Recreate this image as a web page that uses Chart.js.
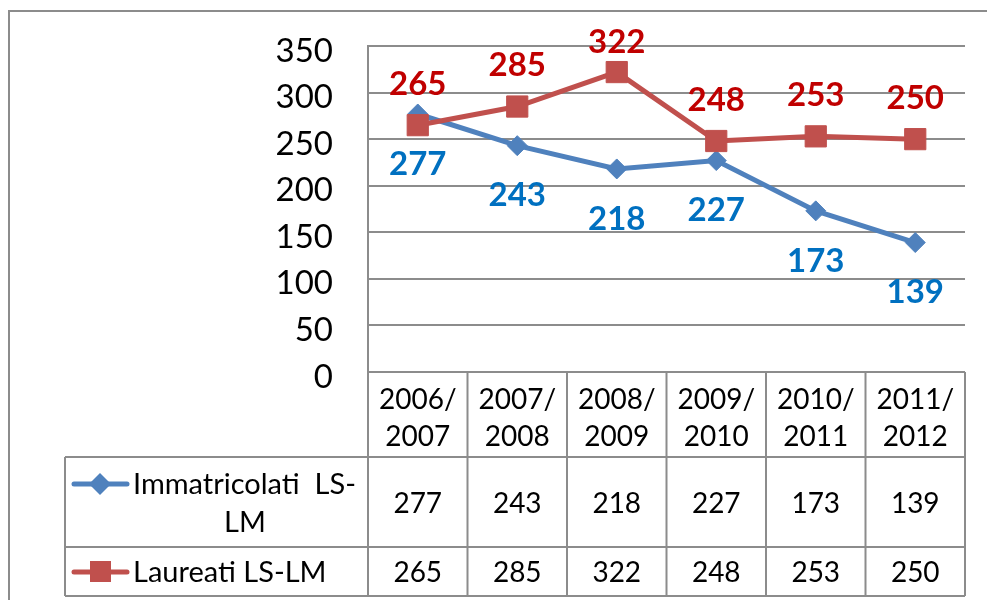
<!DOCTYPE html>
<html>
<head>
<meta charset="utf-8">
<script src="https://cdn.jsdelivr.net/npm/chart.js@4/dist/chart.umd.min.js"></script>
<style>
  html, body { margin: 0; padding: 0; background: #fff; }
  #wrap { width: 987px; height: 600px; }
</style>
</head>
<body>
<div id="wrap"><canvas id="lineChart" width="987" height="600"></canvas></div>
<script>
const ctx = document.getElementById('lineChart').getContext('2d');

const categories = ['2006/2007', '2007/2008', '2008/2009', '2009/2010', '2010/2011', '2011/2012'];
const seriesNames = ['Immatricolati  LS-LM', 'Laureati LS-LM'];
const immatricolati = [277, 243, 218, 227, 173, 139];
const laureati = [265, 285, 322, 248, 253, 250];
const yTicks = [0, 50, 100, 150, 200, 250, 300, 350];

const blue = '#4F81BD';
const red = '#C0504D';
const blueLabel = '#0070C0';
const redLabel = '#C00000';
const gridGray = '#8C8C8C';
const FONT = 'Lato, "Open Sans", sans-serif';

// etichette sopra / sotto i punti
const valueLabels = {
    id: 'valueLabels',
    afterDatasetsDraw(chart) {
        const c = chart.ctx;
        c.save();
        c.font = 'bold 33px ' + FONT;
        c.textAlign = 'center';
        c.textBaseline = 'middle';
        chart.data.datasets.forEach((ds, i) => {
            const meta = chart.getDatasetMeta(i);
            meta.data.forEach((pt, j) => {
                let y = ds.labelAbove ? pt.y - 41 : pt.y + 50;
                if (y < 42) y = 42;
                c.fillStyle = ds.labelColor;
                c.fillText(String(ds.data[j]), pt.x, y);
            });
        });
        c.restore();
    }
};

// tabella dati sotto il grafico + bordo esterno
const dataTable = {
    id: 'dataTable',
    afterDraw(chart) {
        const c = chart.ctx;
        const x = chart.scales.x;
        const area = chart.chartArea;
        const n = categories.length;
        const colW = (area.right - area.left) / n;
        const top = area.bottom;
        const r1 = 457, r2 = 547, bottom = 596, legLeft = 65;

        c.save();
        c.strokeStyle = gridGray;
        c.lineWidth = 2;
        c.beginPath();
        // righe orizzontali
        c.moveTo(area.left, top); c.lineTo(area.right, top);
        [r1, r2, bottom].forEach(y => { c.moveTo(legLeft, y); c.lineTo(area.right, y); });
        // colonne
        for (let i = 0; i <= n; i++) {
            const xx = area.left + i * colW;
            c.moveTo(xx, top); c.lineTo(xx, bottom);
        }
        c.moveTo(legLeft, r1); c.lineTo(legLeft, bottom);
        c.stroke();

        // bordo esterno del grafico
        c.strokeRect(9, 11, 1100, 700);

        c.fillStyle = '#000';
        c.font = '28px ' + FONT;
        c.textAlign = 'center';
        c.textBaseline = 'middle';
        categories.forEach((cat, i) => {
            const cx = x.getPixelForValue(i);
            const parts = cat.split('/');
            c.fillText(parts[0] + '/', cx, 400);
            c.fillText(parts[1], cx, 437);
            c.fillText(String(immatricolati[i]), cx, 504);
            c.fillText(String(laureati[i]), cx, 573);
        });

        // legenda
        c.lineWidth = 5;
        c.lineCap = 'round';
        c.strokeStyle = blue;
        c.beginPath(); c.moveTo(74, 484); c.lineTo(127, 484); c.stroke();
        c.fillStyle = blue;
        c.beginPath();
        c.moveTo(100, 473); c.lineTo(111, 484); c.lineTo(100, 495); c.lineTo(89, 484);
        c.closePath(); c.fill();

        c.strokeStyle = red;
        c.beginPath(); c.moveTo(74, 572); c.lineTo(127, 572); c.stroke();
        c.fillStyle = red;
        c.fillRect(90, 561, 21, 21);

        c.fillStyle = '#000';
        c.font = '29px ' + FONT;
        c.textAlign = 'left';
        c.fillText('Immatricolati  LS-', 133, 485);
        c.textAlign = 'center';
        c.fillText('LM', 245, 523);
        c.textAlign = 'left';
        c.fillText(seriesNames[1], 133, 573);
        c.restore();
    }
};

const chart = new Chart(ctx, {
    type: 'line',
    data: {
        labels: categories,
        datasets: [{
            label: seriesNames[0],
            data: immatricolati,
            borderColor: blue,
            backgroundColor: blue,
            borderWidth: 5,
            pointStyle: 'rectRot',
            pointRadius: 10,
            pointBorderWidth: 1,
            pointBorderColor: blue,
            pointBackgroundColor: blue,
            tension: 0,
            order: 1,
            labelAbove: false,
            labelColor: blueLabel
        }, {
            label: seriesNames[1],
            data: laureati,
            borderColor: red,
            backgroundColor: red,
            borderWidth: 5,
            pointStyle: 'rect',
            pointRadius: 15,
            pointBorderWidth: 1,
            pointBorderColor: red,
            pointBackgroundColor: red,
            tension: 0,
            order: 0,
            labelAbove: true,
            labelColor: redLabel
        }]
    },
    options: {
        responsive: false,
        animation: false,
        layout: { padding: { left: 0, top: 46, right: 22, bottom: 228 } },
        plugins: {
            legend: { display: false },
            tooltip: { enabled: false }
        },
        scales: {
            x: {
                display: false,
                offset: true
            },
            y: {
                min: 0,
                max: 350,
                afterFit(scale) {
                    scale.width = 368;
                    scale.paddingTop = 0;
                    scale.paddingBottom = 0;
                },
                afterBuildTicks(scale) { scale.ticks = yTicks.map(v => ({ value: v })); },
                ticks: {
                    padding: 35,
                    labelOffset: 5,
                    color: '#000',
                    font: { family: FONT, size: 33 }
                },
                grid: { color: gridGray, lineWidth: 2, drawTicks: false },
                border: { display: true, color: gridGray, width: 2 }
            }
        }
    },
    plugins: [valueLabels, dataTable]
});
</script>
</body>
</html>
